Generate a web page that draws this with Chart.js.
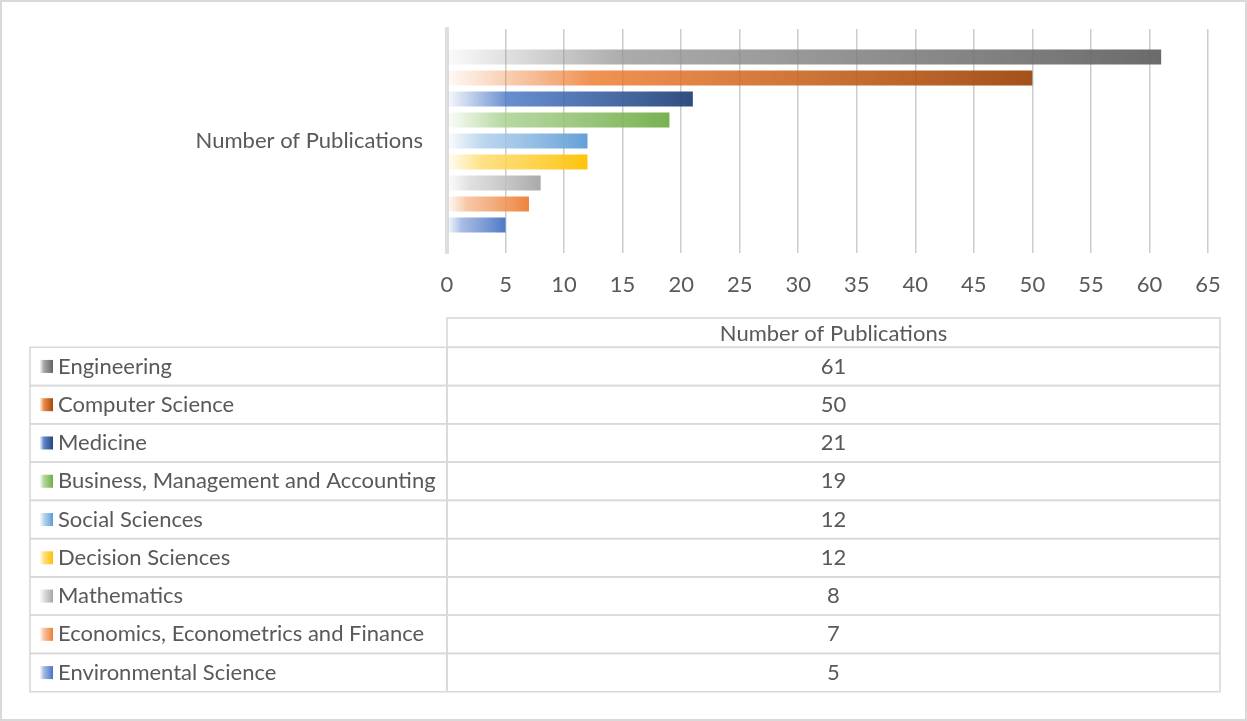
<!DOCTYPE html>
<html>
<head>
<meta charset="utf-8">
<script src="https://cdn.jsdelivr.net/npm/chart.js@4"></script>
<style>
  html, body { margin: 0; padding: 0; background: #ffffff; }
  #wrap { position: relative; width: 1247px; height: 721px; }
</style>
</head>
<body>
<div id="wrap"><canvas id="c" width="1247" height="721"></canvas></div>
<script>
// ---- data ----
const categoryLabels = ['Number of Publications'];
const seriesNames = [
  'Engineering',
  'Computer Science',
  'Medicine',
  'Business, Management and Accounting',
  'Social Sciences',
  'Decision Sciences',
  'Mathematics',
  'Economics, Econometrics and Finance',
  'Environmental Science'
];
const seriesValues = [61, 50, 21, 19, 12, 12, 8, 7, 5];
const tickValues = [0, 5, 10, 15, 20, 25, 30, 35, 40, 45, 50, 55, 60, 65];

// ---- styles ----
const seriesColors = ['#636363', '#9E480E', '#264478', '#70AD47', '#5B9BD5', '#FFC000', '#A5A5A5', '#ED7D31', '#4472C4'];
const FONT = 'Lato, "Open Sans", sans-serif';
const FSIZE = 22;
const TEXT = '#595959';
const LINE = '#D9D9D9';

function hexToRgb(h) {
  const n = parseInt(h.slice(1), 16);
  return [(n >> 16) & 255, (n >> 8) & 255, n & 255];
}
function rgbToHsl(r, g, b) {
  r /= 255; g /= 255; b /= 255;
  const mx = Math.max(r, g, b), mn = Math.min(r, g, b);
  let h = 0, s = 0; const l = (mx + mn) / 2;
  if (mx !== mn) {
    const d = mx - mn;
    s = l > 0.5 ? d / (2 - mx - mn) : d / (mx + mn);
    if (mx === r) h = (g - b) / d + (g < b ? 6 : 0);
    else if (mx === g) h = (b - r) / d + 2;
    else h = (r - g) / d + 4;
    h /= 6;
  }
  return [h, s, l];
}
function hslToRgb(h, s, l) {
  if (s === 0) return [l * 255, l * 255, l * 255];
  const hue2 = (p, q, t) => {
    if (t < 0) t += 1; if (t > 1) t -= 1;
    if (t < 1 / 6) return p + (q - p) * 6 * t;
    if (t < 1 / 2) return q;
    if (t < 2 / 3) return p + (q - p) * (2 / 3 - t) * 6;
    return p;
  };
  const q = l < 0.5 ? l * (1 + s) : l + s - l * s;
  const p = 2 * l - q;
  return [hue2(p, q, h + 1 / 3) * 255, hue2(p, q, h) * 255, hue2(p, q, h - 1 / 3) * 255];
}
function lighter(hex, amt) {
  const [r, g, b] = hexToRgb(hex);
  const [h, s, l] = rgbToHsl(r, g, b);
  return hslToRgb(h, s, Math.min(0.9, l + amt));
}
function rgba(arr, a) {
  return 'rgba(' + Math.round(arr[0]) + ',' + Math.round(arr[1]) + ',' + Math.round(arr[2]) + ',' + a + ')';
}
function makeGradient(ctx, x0, x1, hex) {
  const g = ctx.createLinearGradient(x0, 0, x1, 0);
  const light = lighter(hex, 0.2);
  g.addColorStop(0, rgba(light, 0.04));
  g.addColorStop(0.25, rgba(light, 0.8));
  g.addColorStop(1, rgba(hexToRgb(hex), 0.95));
  return g;
}

const datasets = seriesNames.map((name, i) => ({
  label: name,
  data: [seriesValues[i]],
  backgroundColor: (c) => {
    const chart = c.chart;
    const xs = chart.scales.x;
    if (!chart.chartArea || !xs) return seriesColors[i];
    const x0 = xs.getPixelForValue(0);
    const x1 = xs.getPixelForValue(c.parsed ? c.parsed.x : seriesValues[i]);
    return makeGradient(chart.ctx, x0, x1, seriesColors[i]);
  },
  borderWidth: 0,
  categoryPercentage: 0.84375,
  barPercentage: 0.714
}));

// ---- data table + frame plugin ----
const tablePlugin = {
  id: 'dataTable',
  afterDraw(chart) {
    const ctx = chart.ctx;
    const xs = chart.scales.x;
    const left = 30, mid = xs.left, right = 1220;
    const headTop = 318, rowTop = 347.3, rowH = 38.27;
    const n = seriesNames.length;
    ctx.save();
    ctx.strokeStyle = LINE;
    ctx.lineWidth = 1.6;
    ctx.strokeRect(mid, headTop, right - mid, rowTop - headTop);
    for (let i = 0; i < n; i++) {
      const y = rowTop + i * rowH;
      ctx.strokeRect(left, y, mid - left, rowH);
      ctx.strokeRect(mid, y, right - mid, rowH);
    }
    ctx.fillStyle = TEXT;
    ctx.font = FSIZE + 'px ' + FONT;
    ctx.textBaseline = 'middle';
    ctx.textAlign = 'center';
    ctx.fillText(categoryLabels[0], (mid + right) / 2, headTop + (rowTop - headTop) / 2 + 1);
    for (let i = 0; i < n; i++) {
      const cy = rowTop + i * rowH + rowH / 2;
      const kx = 40, kw = 13, kh = 13;
      const g = ctx.createLinearGradient(kx, 0, kx + kw, 0);
      const light = lighter(seriesColors[i], 0.2);
      g.addColorStop(0, rgba(light, 0.1));
      g.addColorStop(0.3, rgba(light, 0.85));
      g.addColorStop(1, rgba(hexToRgb(seriesColors[i]), 1));
      ctx.fillStyle = g;
      ctx.fillRect(kx, cy - kh / 2, kw, kh);
      ctx.fillStyle = TEXT;
      ctx.textAlign = 'left';
      ctx.fillText(seriesNames[i], 58, cy);
      ctx.textAlign = 'center';
      ctx.fillText(String(seriesValues[i]), (mid + right) / 2, cy);
    }
    ctx.strokeStyle = LINE;
    ctx.lineWidth = 2;
    ctx.strokeRect(1, 1, 1245, 719);
    ctx.restore();
  }
};

new Chart(document.getElementById('c'), {
  type: 'bar',
  data: { labels: categoryLabels, datasets },
  options: {
    indexAxis: 'y',
    responsive: false,
    animation: false,
    layout: { padding: { top: 29, right: 39, bottom: 408, left: 0 } },
    plugins: { legend: { display: false }, tooltip: { enabled: false } },
    scales: {
      x: {
        min: 0, max: 65,
        afterBuildTicks: (s) => { s.ticks = tickValues.map(v => ({ value: v })); },
        afterFit: (s) => { s.height = 60; s.paddingLeft = 0; s.paddingRight = 0; },
        grid: {
          drawTicks: false,
          color: (c) => c.index === 0 ? 'rgba(0,0,0,0)' : '#CCCCCC',
          lineWidth: 1.5
        },
        border: { display: false },
        ticks: { color: TEXT, font: { family: FONT, size: FSIZE }, padding: 19, autoSkip: false, maxRotation: 0 }
      },
      y: {
        afterFit: (s) => { s.width = 447; s.paddingTop = 0; s.paddingBottom = 0; },
        grid: { display: false, drawTicks: false },
        border: { display: true, color: '#DEDEDE', width: 4 },
        ticks: { color: TEXT, font: { family: FONT, size: FSIZE }, padding: 24 }
      }
    }
  },
  plugins: [tablePlugin]
});
</script>
</body>
</html>
